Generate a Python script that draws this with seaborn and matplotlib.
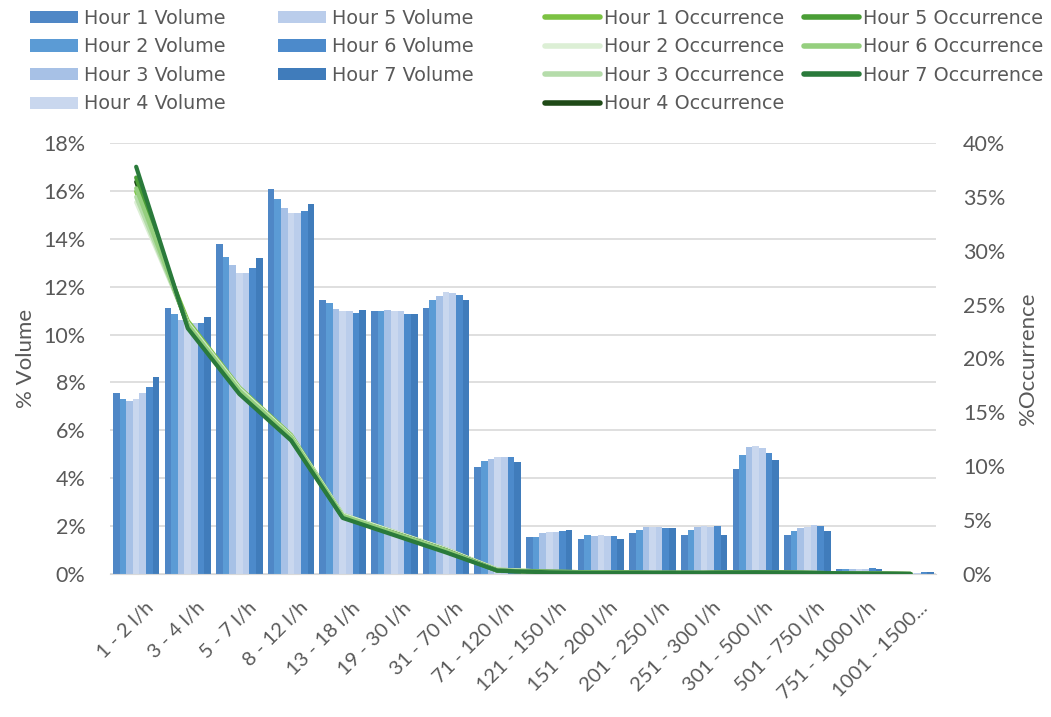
import numpy as np
import pandas as pd
import matplotlib
matplotlib.use("Agg")
import matplotlib.pyplot as plt
import matplotlib.transforms as mtransforms
import seaborn as sns

categories = ["1 - 2 l/h", "3 - 4 l/h", "5 - 7 l/h", "8 - 12 l/h", "13 - 18 l/h",
              "19 - 30 l/h", "31 - 70 l/h", "71 - 120 l/h", "121 - 150 l/h",
              "151 - 200 l/h", "201 - 250 l/h", "251 - 300 l/h", "301 - 500 l/h",
              "501 - 750 l/h", "751 - 1000 l/h", "1001 - 1500..."]

hours = [f"Hour {i}" for i in range(1, 8)]

# % Volume per hour (rows: hours, cols: categories)
vol_h1 = [7.57, 11.12, 13.78, 16.07, 11.43, 10.97, 11.13, 4.45, 1.55, 1.48, 1.73, 1.63, 4.37, 1.63, 0.20, 0.05]
vol_h2 = [7.32, 10.86, 13.25, 15.66, 11.33, 11.00, 11.44, 4.70, 1.55, 1.61, 1.84, 1.84, 4.97, 1.81, 0.22, 0.05]
vol_h3 = [7.22, 10.60, 12.89, 15.27, 11.05, 11.04, 11.60, 4.80, 1.72, 1.59, 1.98, 1.98, 5.32, 1.93, 0.22, 0.06]
vol_h4 = [7.29, 10.50, 12.58, 15.09, 10.97, 10.97, 11.79, 4.89, 1.75, 1.64, 1.98, 2.00, 5.34, 1.98, 0.22, 0.06]
vol_h5 = [7.54, 10.47, 12.58, 15.09, 10.97, 11.00, 11.72, 4.89, 1.75, 1.59, 1.98, 1.98, 5.27, 2.05, 0.22, 0.06]
vol_h6 = [7.82, 10.50, 12.76, 15.17, 10.90, 10.86, 11.66, 4.89, 1.78, 1.59, 1.91, 2.00, 5.04, 2.00, 0.25, 0.08]
vol_h7 = [8.21, 10.74, 13.21, 15.45, 11.01, 10.86, 11.44, 4.68, 1.82, 1.48, 1.91, 1.63, 4.75, 1.81, 0.20, 0.10]

# % Occurrence per hour
occ_h1 = [35.5, 23.5, 17.3, 12.9, 5.5, 3.9, 2.3, 0.4, 0.2, 0.15, 0.1, 0.1, 0.15, 0.1, 0.05, 0.0]
occ_h2 = [34.5, 23.3, 17.2, 12.8, 5.5, 3.9, 2.3, 0.4, 0.2, 0.15, 0.1, 0.1, 0.15, 0.1, 0.05, 0.0]
occ_h3 = [35.0, 23.2, 17.1, 12.7, 5.4, 3.8, 2.2, 0.4, 0.2, 0.15, 0.1, 0.1, 0.15, 0.1, 0.05, 0.0]
occ_h4 = [36.4, 23.0, 16.9, 12.6, 5.3, 3.8, 2.2, 0.3, 0.2, 0.15, 0.1, 0.1, 0.15, 0.1, 0.05, 0.0]
occ_h5 = [36.8, 23.0, 16.8, 12.5, 5.3, 3.7, 2.1, 0.3, 0.2, 0.15, 0.1, 0.1, 0.15, 0.1, 0.05, 0.0]
occ_h6 = [35.8, 23.1, 17.0, 12.7, 5.4, 3.8, 2.2, 0.3, 0.2, 0.15, 0.1, 0.1, 0.15, 0.1, 0.05, 0.0]
occ_h7 = [37.8, 22.8, 16.7, 12.4, 5.2, 3.6, 2.0, 0.3, 0.15, 0.1, 0.1, 0.1, 0.15, 0.1, 0.05, 0.0]

bar_colors = ["#4f87c6", "#5b9bd5", "#a7c1e6", "#c9d7ee", "#bacdeb", "#4c8acb", "#407cbb"]
line_colors = ["#7cc243", "#dcefd5", "#b5dcaa", "#1f4a17", "#4a9e36", "#95cf7e", "#2a7a3b"]

vols = [vol_h1, vol_h2, vol_h3, vol_h4, vol_h5, vol_h6, vol_h7]
occs = [occ_h1, occ_h2, occ_h3, occ_h4, occ_h5, occ_h6, occ_h7]

vol_df = pd.DataFrame([
    {"cat": c, "hour": f"{h} Volume", "val": v}
    for h, vs in zip(hours, vols) for c, v in zip(categories, vs)
])
occ_df = pd.DataFrame([
    {"pos": i, "hour": f"{h} Occurrence", "val": v}
    for h, os_ in zip(hours, occs) for i, v in enumerate(os_)
])

sns.set_style("white")
plt.rcParams["font.family"] = ["Lato", "DejaVu Sans"]
grey = "#595959"

fig = plt.figure(figsize=(10.51, 7.17), dpi=100)
ax = fig.add_axes([0.105, 0.1995, 0.786, 0.601])

sns.barplot(data=vol_df, x="cat", y="val", hue="hour", palette=bar_colors,
            width=0.9, ax=ax, saturation=1, linewidth=0)
bar_handles, bar_labels = ax.get_legend_handles_labels()
ax.get_legend().remove()

ax.set_ylim(0, 18)
ax.set_yticks(np.arange(0, 19, 2))
ax.set_yticklabels([f"{int(t)}%" for t in np.arange(0, 19, 2)])
ax.set_xlim(-0.5, len(categories) - 0.5)
ax.yaxis.grid(True, color="#d9d9d9", linewidth=1.2)
ax.set_axisbelow(True)
for s in ["top", "right", "left"]:
    ax.spines[s].set_visible(False)
ax.spines["bottom"].set_color("#d9d9d9")
ax.tick_params(axis="y", length=0, colors=grey, labelsize=15.5, pad=18)
ax.tick_params(axis="x", length=0, colors=grey, labelsize=14.5, pad=18)
ax.set_xticks(range(len(categories)))
ax.set_xticklabels(categories, rotation=45, ha="right", rotation_mode="anchor",
                   fontsize=14.5, color=grey)
offset = mtransforms.ScaledTranslation(6 / 72, 0, fig.dpi_scale_trans)
for lbl in ax.get_xticklabels():
    lbl.set_transform(lbl.get_transform() + offset)
ax.set_xlabel("")
ax.set_ylabel("% Volume", fontsize=16, color=grey, labelpad=5)

ax2 = ax.twinx()
sns.lineplot(data=occ_df, x="pos", y="val", hue="hour", palette=line_colors,
             linewidth=3, ax=ax2, sort=False)
line_handles, line_labels = ax2.get_legend_handles_labels()
ax2.get_legend().remove()
ax2.set_ylim(0, 40)
ax2.set_yticks(np.arange(0, 41, 5))
ax2.set_yticklabels([f"{int(t)}%" for t in np.arange(0, 41, 5)])
ax2.set_xlim(-0.5, len(categories) - 0.5)
for s in ["top", "right", "left", "bottom"]:
    ax2.spines[s].set_visible(False)
ax2.tick_params(axis="y", length=0, colors=grey, labelsize=15.5, pad=19)
ax2.set_ylabel("%Occurrence", fontsize=16, color=grey, labelpad=9)
ax2.set_xlabel("")

for h in line_handles:
    h.set_linewidth(4)

leg1 = fig.legend(bar_handles, bar_labels, ncol=2, loc="upper left",
                  bbox_to_anchor=(0.012, 1.012), frameon=False,
                  prop={"family": "DejaVu Sans", "size": 13.8},
                  handlelength=2.5, handleheight=0.6, labelspacing=0.5,
                  columnspacing=2.7, handletextpad=0.35, labelcolor=grey)
leg2 = fig.legend(line_handles, line_labels, ncol=2, loc="upper left",
                  bbox_to_anchor=(0.502, 1.012), frameon=False,
                  prop={"family": "DejaVu Sans", "size": 13.8},
                  handlelength=2.9, labelspacing=0.5,
                  columnspacing=1.0, handletextpad=0.2, labelcolor=grey)

fig.savefig("out.png", dpi=100)
